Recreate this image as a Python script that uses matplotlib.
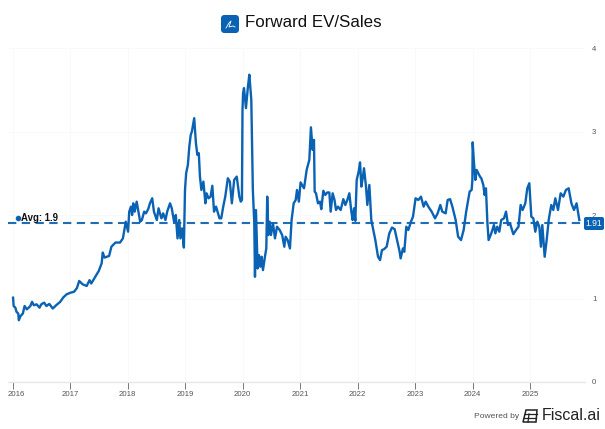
import matplotlib
matplotlib.use("Agg")
import matplotlib.pyplot as plt
from matplotlib.patches import FancyBboxPatch, Polygon
from matplotlib.transforms import ScaledTranslation

plt.rcParams["font.family"] = ["Liberation Sans", "DejaVu Sans"]

# values (decimal year, EV/Sales)
dates_2016_17 = [2016.01, 2016.02, 2016.05, 2016.07, 2016.10, 2016.11, 2016.14, 2016.18, 2016.21, 2016.25,
                 2016.31, 2016.34, 2016.37, 2016.42, 2016.47, 2016.50, 2016.55, 2016.59, 2016.64, 2016.70,
                 2016.76, 2016.83, 2016.88, 2016.94, 2017.01, 2017.07, 2017.12, 2017.16, 2017.22, 2017.29,
                 2017.34, 2017.37, 2017.44, 2017.50, 2017.55, 2017.57, 2017.60, 2017.68, 2017.72, 2017.79]
values_2016_17 = [1.01, 0.91, 0.89, 0.84, 0.82, 0.74, 0.79, 0.82, 0.91, 0.87,
                  0.91, 0.96, 0.92, 0.93, 0.89, 0.93, 0.95, 0.91, 0.935, 0.88,
                  0.92, 0.96, 1.01, 1.05, 1.07, 1.08, 1.125, 1.21, 1.17, 1.15,
                  1.22, 1.18, 1.26, 1.33, 1.42, 1.55, 1.49, 1.51, 1.62, 1.67]

dates_2018 = [2017.87, 2017.92, 2017.95, 2017.97, 2018.01, 2018.03, 2018.06, 2018.08, 2018.10, 2018.125,
              2018.16, 2018.195, 2018.22, 2018.25, 2018.29, 2018.32, 2018.36, 2018.39, 2018.43, 2018.46,
              2018.51, 2018.54, 2018.59, 2018.62, 2018.66, 2018.69, 2018.74, 2018.77, 2018.81, 2018.84,
              2018.87, 2018.90, 2018.92, 2018.95, 2018.98]
values_2018 = [1.67, 1.72, 1.84, 1.92, 1.80, 2.04, 2.10, 2.00, 2.14, 2.04,
               2.16, 2.02, 1.92, 1.94, 2.04, 2.02, 2.07, 2.14, 2.20, 2.04,
               1.94, 2.08, 1.96, 2.02, 1.94, 2.04, 2.14, 2.08, 1.92, 2.00,
               1.72, 1.94, 1.72, 1.84, 1.61]

dates_2019 = [2019.00, 2019.02, 2019.05, 2019.075, 2019.10, 2019.12, 2019.16, 2019.19, 2019.215, 2019.24,
              2019.26, 2019.285, 2019.32, 2019.355, 2019.375, 2019.41, 2019.445, 2019.475, 2019.505, 2019.54,
              2019.60, 2019.63, 2019.665, 2019.70, 2019.745, 2019.78, 2019.815, 2019.855, 2019.90, 2019.945,
              2019.97, 2019.99]
values_2019 = [2.30, 2.50, 2.60, 2.82, 2.96, 3.00, 3.16, 2.86, 2.72, 2.74,
               2.46, 2.30, 2.40, 2.14, 2.26, 2.20, 2.22, 2.35, 2.04, 2.10,
               1.96, 1.96, 2.10, 2.22, 2.44, 2.40, 2.14, 2.42, 2.46, 2.22,
               2.16, 2.18]

dates_2020 = [2020.00, 2020.01, 2020.026, 2020.06, 2020.095, 2020.119, 2020.153, 2020.18, 2020.205, 2020.217,
              2020.234, 2020.263, 2020.287, 2020.31, 2020.333, 2020.356, 2020.39, 2020.414, 2020.43, 2020.45,
              2020.472, 2020.495, 2020.53, 2020.565, 2020.60, 2020.646, 2020.69, 2020.727, 2020.75, 2020.785,
              2020.825, 2020.854, 2020.89, 2020.925, 2020.948, 2020.98]
values_2020 = [3.26, 3.46, 3.52, 3.28, 3.54, 3.68, 3.38, 2.30, 1.90, 1.26,
               2.06, 1.36, 1.52, 1.38, 1.50, 1.34, 1.50, 1.60, 2.22, 1.76,
               1.92, 1.76, 1.90, 1.72, 1.86, 1.82, 1.76, 1.62, 1.74, 1.70,
               1.60, 1.94, 2.14, 2.18, 2.30, 2.16]

dates_2021 = [2021.01, 2021.07, 2021.116, 2021.162, 2021.19, 2021.22, 2021.243, 2021.255, 2021.278, 2021.313,
              2021.348, 2021.37, 2021.406, 2021.44, 2021.475, 2021.51, 2021.533, 2021.568, 2021.60, 2021.626,
              2021.66, 2021.707, 2021.754, 2021.788, 2021.823, 2021.858, 2021.893, 2021.916, 2021.94, 2021.962,
              2021.986]
values_2021 = [2.39, 2.32, 2.54, 2.66, 3.05, 2.78, 2.90, 2.28, 2.26, 2.14,
               2.16, 2.07, 2.29, 2.24, 2.27, 2.27, 2.04, 2.26, 2.18, 2.06,
               2.10, 2.06, 2.19, 2.12, 2.18, 2.26, 2.04, 1.94, 2.08, 1.93,
               2.42]

dates_2022 = [2022.02, 2022.044, 2022.067, 2022.09, 2022.113, 2022.148, 2022.171, 2022.206, 2022.24, 2022.275,
              2022.31, 2022.357, 2022.392, 2022.426, 2022.46, 2022.507, 2022.553, 2022.60, 2022.646, 2022.687,
              2022.733, 2022.75, 2022.79, 2022.814, 2022.849, 2022.884, 2022.93, 2022.965]
values_2022 = [2.52, 2.63, 2.34, 2.44, 2.56, 2.34, 2.12, 2.36, 1.94, 1.82,
               1.70, 1.50, 1.46, 1.58, 1.59, 1.62, 1.78, 1.85, 1.83, 1.70,
               1.56, 1.48, 1.60, 1.56, 1.86, 1.82, 1.92, 1.98]

dates_2023 = [2023.01, 2023.058, 2023.104, 2023.15, 2023.185, 2023.232, 2023.29, 2023.348, 2023.394, 2023.44,
              2023.475, 2023.533, 2023.568, 2023.61, 2023.65, 2023.707, 2023.75, 2023.80, 2023.846, 2023.89,
              2023.95, 2023.985, 2023.998]
values_2023 = [2.20, 2.18, 2.22, 2.10, 2.16, 2.10, 2.04, 1.96, 2.02, 2.12,
               2.04, 2.02, 2.18, 2.19, 2.10, 1.94, 1.74, 1.70, 1.82, 2.04,
               2.28, 2.30, 2.42]

dates_2024 = [2024.003, 2024.026, 2024.05, 2024.072, 2024.13, 2024.153, 2024.188, 2024.21, 2024.234, 2024.258,
              2024.28, 2024.327, 2024.373, 2024.397, 2024.43, 2024.466, 2024.50, 2024.548, 2024.583, 2024.618,
              2024.652, 2024.71, 2024.757, 2024.80, 2024.837, 2024.872, 2024.918, 2024.953, 2024.988]
values_2024 = [2.87, 2.62, 2.42, 2.54, 2.46, 2.44, 2.36, 2.24, 2.32, 1.92,
               1.70, 1.78, 1.88, 1.78, 1.86, 1.80, 1.94, 1.96, 2.04, 1.88,
               1.90, 1.77, 1.82, 1.86, 2.12, 2.06, 2.14, 2.32, 2.38]

dates_2025 = [2025.023, 2025.058, 2025.092, 2025.127, 2025.162, 2025.19, 2025.214, 2025.255, 2025.29, 2025.325,
              2025.37, 2025.405, 2025.44, 2025.487, 2025.533, 2025.58, 2025.625, 2025.672, 2025.72, 2025.765,
              2025.81, 2025.858]
values_2025 = [1.98, 1.96, 1.80, 1.92, 1.86, 1.62, 1.88, 1.50, 1.70, 1.94,
               2.12, 2.06, 2.20, 2.06, 2.26, 2.22, 2.30, 2.32, 2.14, 2.06,
               2.14, 1.94]

years = list(range(2016, 2026))
y_ticks = [0, 1, 2, 3, 4]
avg_value = 1.91
avg_label = "Avg: 1.9"
title = "Forward EV/Sales"

BLUE = "#0a62b4"
DASH = "#1f6db5"

dates = (dates_2016_17 + dates_2018 + dates_2019 + dates_2020 + dates_2021
         + dates_2022 + dates_2023 + dates_2024 + dates_2025)
values = (values_2016_17 + values_2018 + values_2019 + values_2020 + values_2021
          + values_2022 + values_2023 + values_2024 + values_2025)

W, H = 605, 429
fig = plt.figure(figsize=(W / 100, H / 100), dpi=100, facecolor="white")

# plot area in pixels: 2016 at x=12.5, 57.5 px per year, y=0 at 382, 83.5 px per unit
left, right, top, bottom = 8, 585, 48, 382
ax = fig.add_axes([left / W, 1 - bottom / H, (right - left) / W, (bottom - top) / H])
ax.set_xlim(2016 + (left - 12.5) / 57.5, 2016 + (right - 12.5) / 57.5)
ax.set_ylim(0, 4)

for s in ["top", "left", "right"]:
    ax.spines[s].set_visible(False)
ax.spines["bottom"].set_color("#e4e6ea")
ax.spines["bottom"].set_linewidth(1)

ax.grid(True, color="#f8f9fa", linewidth=0.7)
ax.set_axisbelow(True)
ax.set_xticks(years)
ax.set_xticklabels(years, fontsize=5.6, color="#555555")
ax.tick_params(axis="x", length=5, width=0.7, color="#777777", pad=1.5)
ax.yaxis.tick_right()
ax.set_yticks(y_ticks)
ax.set_yticklabels(y_ticks, fontsize=5.6, color="#555555")
ax.tick_params(axis="y", length=0, pad=5)

# first label is pushed inside the chart in the original
first = ax.get_xticklabels()[0]
first.set_transform(first.get_transform() + ScaledTranslation(3.5 / 100, 0, fig.dpi_scale_trans))

ax.axhline(avg_value, color=DASH, linewidth=1.5, linestyle=(0, (4, 2.6)), zorder=2)
ax.plot(dates, values, color=BLUE, linewidth=1.7, solid_joinstyle="round", zorder=3)

# overlay in pixel coordinates for title, badge and footer
ov = fig.add_axes([0, 0, 1, 1], facecolor="none")
ov.set_xlim(0, W)
ov.set_ylim(H, 0)
ov.axis("off")

ov.add_patch(FancyBboxPatch((221, 15), 18, 18, boxstyle="round,pad=0,rounding_size=3.5", linewidth=0,
                            facecolor=BLUE))
ov.plot([226, 229, 231, 229, 233, 235], [28, 23, 21, 27, 26, 27], color="white", linewidth=0.6)
ov.text(245, 22.5, title, fontsize=12.2, color="#111111", ha="left", va="center")

ov.plot([18], [218], "o", color=BLUE, markersize=3)
ov.text(21, 218, avg_label, fontsize=6.9, fontweight="bold", color="#111111", ha="left", va="center")

ov.add_patch(FancyBboxPatch((584, 217), 20, 13, boxstyle="round,pad=0,rounding_size=2", linewidth=0,
                            facecolor=BLUE, zorder=5))
ov.text(594, 223.5, f"{avg_value:.2f}", fontsize=6.2, color="white", ha="center", va="center", zorder=6)

ov.text(474, 417, "Powered by", fontsize=6.1, color="#555555", ha="left", va="center")
ov.add_patch(Polygon([[526, 410], [537, 410], [536, 422], [523, 422]], closed=True, fill=False,
                     edgecolor="#222222", linewidth=1.1))
ov.plot([525, 537], [414, 414], color="#222222", linewidth=0.9)
ov.plot([529, 528], [414, 422], color="#222222", linewidth=0.9)
ov.plot([524, 536], [418, 418], color="#222222", linewidth=0.9)
ov.text(541.5, 415.5, "Fiscal.ai", fontsize=11.5, color="#222222", ha="left", va="center")

fig.savefig("out.png", dpi=100)
